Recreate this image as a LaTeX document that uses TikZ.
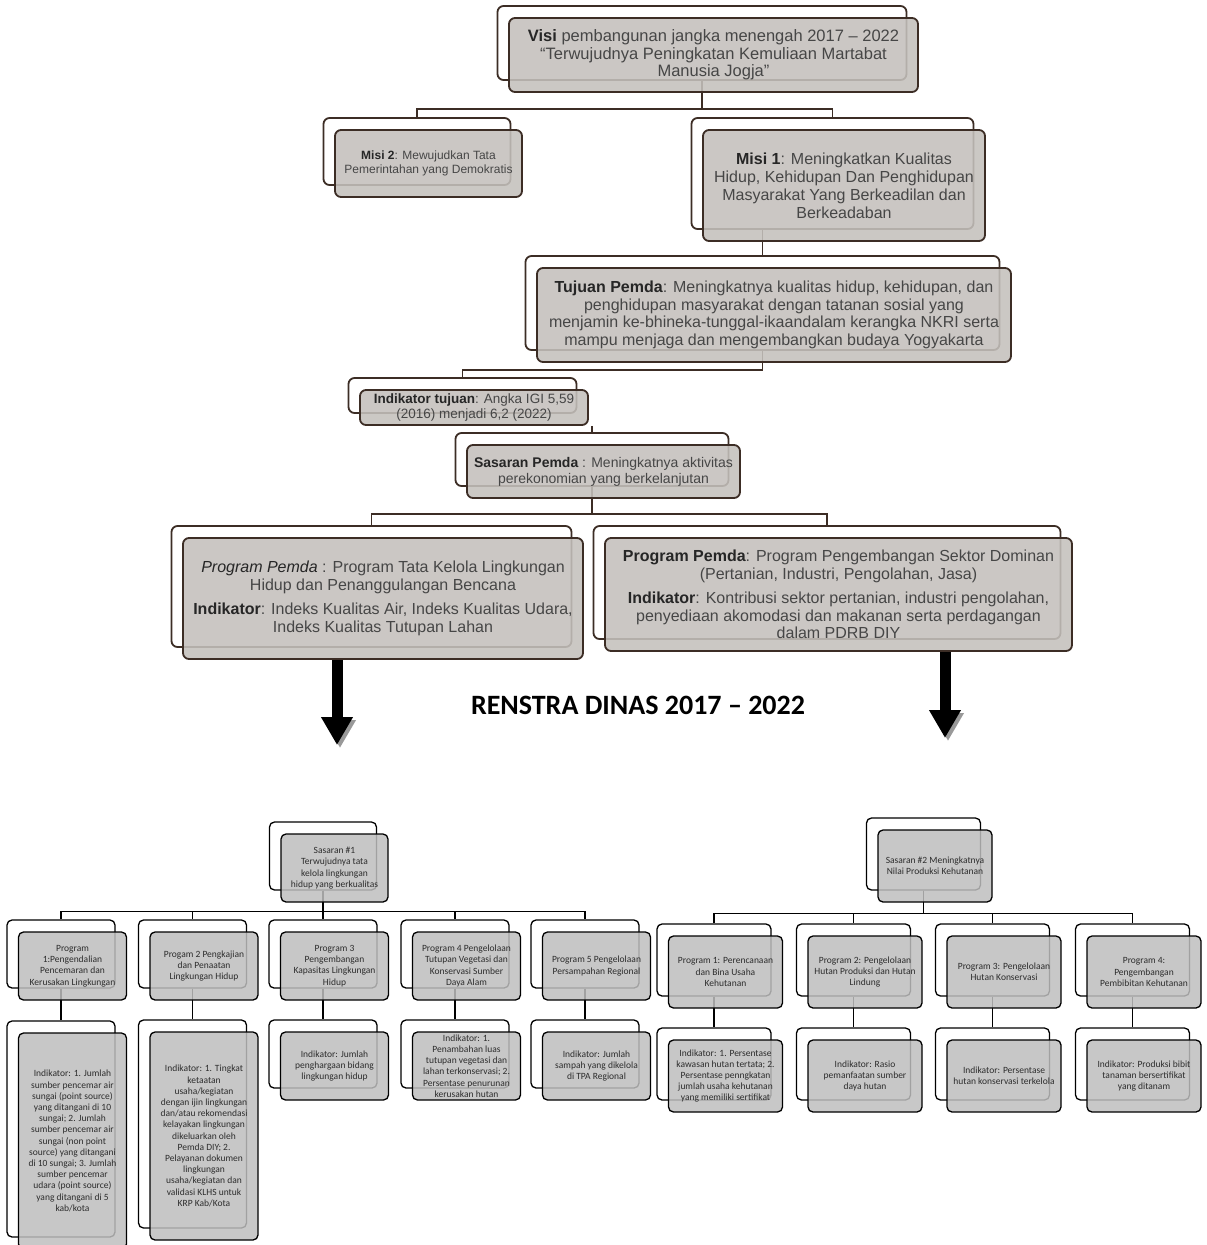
\documentclass[tikz,border=0pt]{standalone}
\usepackage{fontspec}
\setmainfont{Liberation Sans}
\newfontfamily\topfont{Liberation Sans}
\newfontfamily\lowfont{Carlito}
\usetikzlibrary{arrows.meta,backgrounds}
\definecolor{topline}{RGB}{60,45,37}
\definecolor{topfill}{RGB}{196,192,188}
\definecolor{toptext}{RGB}{70,70,70}
\definecolor{lowfill}{RGB}{190,190,190}
\definecolor{lowtext}{RGB}{45,45,45}
\tikzset{
    %Define style for the copy behind each card
    hiback/.style={
           rectangle,
           rounded corners=6pt,
           draw=topline, line width=1.8pt,
           fill=white},
    %Define style for the upper cards
    hifront/.style={
           rectangle,
           rounded corners=6pt,
           draw=topline, line width=1.8pt,
           fill=topfill, fill opacity=0.88, text opacity=1,
           text=toptext,
           inner sep=1pt,
           align=center},
    loback/.style={
           rectangle,
           rounded corners=5pt,
           draw=black, line width=1.3pt,
           fill=white},
    lofront/.style={
           rectangle,
           rounded corners=5pt,
           draw=black, line width=1.3pt,
           fill=lowfill, fill opacity=0.85, text opacity=1,
           text=lowtext,
           inner sep=1pt,
           font=\lowfont\fontsize{9.5}{11.2}\selectfont,
           align=center},
    % Define connector styles
    link/.style={draw=topline, line width=1.8pt},
    lolink/.style={draw=black, line width=1.4pt},
    bigarrow/.style={
           line width=11pt,
           -{Triangle[width=30pt,length=28pt]},
           preaction={draw=black!40, transform canvas={shift={(3pt,-3pt)}}}}
}
\newcommand{\lbl}[1]{\textcolor{black!85}{\bfseries #1}}
% card: back copy (name-bk) and front box (name)
\newcommand{\card}[7][]{%
  \node[#2back, minimum width=#5pt, minimum height=#6pt, xshift=-11.5pt, yshift=12pt] (#3-bk) at #4 {};
  \node[#2front, minimum width=#5pt, minimum height=#6pt, #1] (#3) at #4 {#7};}

\begin{document}
\begin{tikzpicture}[x=1pt,y=-1pt]
\useasboundingbox (0,0) rectangle (1207,1245);

% Pemda level
\card[font=\topfont\fontsize{16.5}{17.5}\selectfont]{hi}{visi}{(713.5,55)}{409}{74}{\lbl{Visi} pembangunan jangka menengah 2017 – 2022\\ “Terwujudnya Peningkatan Kemuliaan Martabat\\ Manusia Jogja”}
\card[font=\topfont\fontsize{12}{13.5}\selectfont]{hi}{misi2}{(428.5,163.5)}{187}{67}{\lbl{Misi 2}: Mewujudkan Tata\\ Pemerintahan yang Demokratis}
\card[font=\topfont\fontsize{16}{18}\selectfont]{hi}{misi1}{(844,185.5)}{282}{111}{\lbl{Misi 1}: Meningkatkan Kualitas\\ Hidup, Kehidupan Dan Penghidupan\\ Masyarakat Yang Berkeadilan dan\\ Berkeadaban}
\card[font=\topfont\fontsize{16}{17.7}\selectfont]{hi}{tujuan}{(774,315)}{474}{94}{\lbl{Tujuan Pemda}: Meningkatnya kualitas hidup, kehidupan, dan\\ penghidupan masyarakat dengan tatanan sosial yang\\ menjamin ke-bhineka-tunggal-ikaandalam kerangka NKRI serta\\ mampu menjaga dan mengembangkan budaya Yogyakarta}
\card[font=\topfont\fontsize{13.5}{15}\selectfont]{hi}{indtuj}{(474,407.5)}{228}{35}{\lbl{Indikator tujuan}: Angka IGI 5,59\\ (2016) menjadi 6,2 (2022)}
\card[font=\topfont\fontsize{14}{16}\selectfont]{hi}{sasaran}{(603.5,471.5)}{273}{53}{\lbl{Sasaran Pemda} : Meningkatnya aktivitas\\ perekonomian yang berkelanjutan}
\card[font=\topfont\fontsize{16}{18}\selectfont]{hi}{ppL}{(383,598.5)}{400}{121}{\textcolor{black!85}{\itshape Program Pemda} : Program Tata Kelola Lingkungan\\ Hidup dan Penanggulangan Bencana\\[6pt] \lbl{Indikator}: Indeks Kualitas Air, Indeks Kualitas Udara,\\ Indeks Kualitas Tutupan Lahan}
\card[font=\topfont\fontsize{16}{17.5}\selectfont]{hi}{ppR}{(838.5,594.5)}{467}{113}{\lbl{Program Pemda}: Program Pengembangan Sektor Dominan\\ (Pertanian, Industri, Pengolahan, Jasa)\\[7pt] \lbl{Indikator}: Kontribusi sektor pertanian, industri pengolahan,\\ penyediaan akomodasi dan makanan serta perdagangan\\ dalam PDRB DIY}

\node[font=\lowfont\fontsize{28}{32}\selectfont\bfseries] (renstra) at (638,705) {RENSTRA DINAS 2017 – 2022};

% Renstra: sasaran #1
\card{lo}{s1}{(334.5,868)}{107}{68}{Sasaran \#1\\ Terwujudnya tata\\ kelola lingkungan\\ hidup yang berkualitas}
\card{lo}{p1}{(72.5,966)}{108}{68}{Program\\ 1:Pengendalian\\ Pencemaran dan\\ Kerusakan Lingkungan}
\card{lo}{p2}{(204,966)}{108}{68}{Progam 2 Pengkajian\\ dan Penaatan\\ Lingkungan Hidup}
\card{lo}{p3}{(334.5,966)}{108}{68}{Program 3\\ Pengembangan\\ Kapasitas Lingkungan\\ Hidup}
\card{lo}{p4}{(466.5,966)}{108}{68}{Program 4 Pengelolaan\\ Tutupan Vegetasi dan\\ Konservasi Sumber\\ Daya Alam}
\card{lo}{p5}{(596.5,966)}{108}{68}{Program 5 Pengelolaan\\ Persampahan Regional}
\card{lo}{i1}{(72.5,1141)}{108}{216}{Indikator: 1. Jumlah\\ sumber pencemar air\\ sungai (point source)\\ yang ditangani di 10\\ sungai; 2. Jumlah\\ sumber pencemar air\\ sungai (non point\\ source) yang ditangani\\ di 10 sungai; 3. Jumlah\\ sumber pencemar\\ udara (point source)\\ yang ditangani di 5\\ kab/kota}
\card{lo}{i2}{(204,1136)}{108}{208}{Indikator: 1. Tingkat\\ ketaatan\\ usaha/kegiatan\\ dengan ijin lingkungan\\ dan/atau rekomendasi\\ kelayakan lingkungan\\ dikeluarkan oleh\\ Pemda DIY; 2.\\ Pelayanan dokumen\\ lingkungan\\ usaha/kegiatan dan\\ validasi KLHS untuk\\ KRP Kab/Kota}
\card{lo}{i3}{(334.5,1066)}{108}{68}{Indikator: Jumlah\\ penghargaan bidang\\ lingkungan hidup}
\card{lo}{i4}{(466.5,1066)}{108}{68}{Indikator: 1.\\ Penambahan luas\\ tutupan vegetasi dan\\ lahan terkonservasi; 2.\\ Persentase penurunan\\ kerusakan hutan}
\card{lo}{i5}{(596.5,1066)}{108}{68}{Indikator: Jumlah\\ sampah yang dikelola\\ di TPA Regional}

% Renstra: sasaran #2
\card{lo}{s2}{(935,866)}{114}{72}{Sasaran \#2 Meningkatnya\\ Nilai Produksi Kehutanan}
\card{lo}{q1}{(725.5,972)}{114}{72}{Program 1: Perencanaan\\ dan Bina Usaha\\ Kehutanan}
\card{lo}{q2}{(865,972)}{114}{72}{Program 2: Pengelolaan\\ Hutan Produksi dan Hutan\\ Lindung}
\card{lo}{q3}{(1004,972)}{114}{72}{Program 3: Pengelolaan\\ Hutan Konservasi}
\card{lo}{q4}{(1144,972)}{114}{72}{Program 4:\\ Pengembangan\\ Pembibitan Kehutanan}
\card{lo}{j1}{(725.5,1076)}{114}{72}{Indikator: 1. Persentase\\ kawasan hutan tertata; 2.\\ Persentase penngkatan\\ jumlah usaha kehutanan\\ yang memiliki sertifikat}
\card{lo}{j2}{(865,1076)}{114}{72}{Indikator: Rasio\\ pemanfaatan sumber\\ daya hutan}
\card{lo}{j3}{(1004,1076)}{114}{72}{Indikator: Persentase\\ hutan konservasi terkelola}
\card{lo}{j4}{(1144,1076)}{114}{72}{Indikator: Produksi bibit\\ tanaman bersertifikat\\ yang ditanam}

\begin{scope}[on background layer]
\draw[link] (visi-bk.south) -- ++(0,28) -| (misi2-bk.north);
\draw[link] (visi-bk.south) ++(0,28) -| (misi1-bk.north);
\draw[link] (tujuan-bk.north |- misi1-bk.south) -- (tujuan-bk.north);
\draw[link] (tujuan-bk.south) -- ++(0,19) -| (indtuj-bk.north);
\draw[link] (sasaran-bk.north |- indtuj.south) -- (sasaran-bk.north);
\draw[link] (sasaran-bk.south) -- ++(0,27) -| (ppL-bk.north);
\draw[link] (sasaran-bk.south) ++(0,27) -| (ppR-bk.north);
\foreach \n in {1,...,5}{
  \draw[lolink] (s1-bk.south) -- ++(0,21) -| (p\n-bk.north);
  \draw[lolink] (p\n-bk.south) -- (i\n-bk.north);
}
\foreach \n in {1,...,4}{
  \draw[lolink] (s2-bk.south) -- ++(0,23) -| (q\n-bk.north);
  \draw[lolink] (q\n-bk.south) -- (j\n-bk.north);
}
\end{scope}

\coordinate (arrL) at (337,745);
\coordinate (arrR) at (945,738);
\draw[bigarrow] (ppL.south -| arrL) -- (arrL);
\draw[bigarrow] (ppR.south -| arrR) -- (arrR);
\end{tikzpicture}
\end{document}
